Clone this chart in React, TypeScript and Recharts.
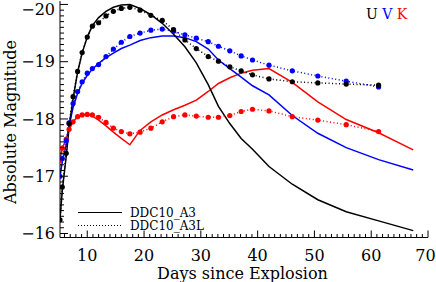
import React from 'react';
import { ComposedChart, Line, XAxis, YAxis, Legend } from 'recharts';

const FONT = '"DejaVu Serif", serif';

// Model DDC10_A3 (solid lines)
const solidDays = [5.2, 5.6, 6.3, 6.8, 7.5, 8.3, 9.1, 10.0, 10.9, 12.0, 13.3, 14.6, 16.0, 17.5, 19.3, 21.2, 23.2, 25.2, 27.2, 29.2, 31.3, 33.1, 35.1, 37.1, 39.1, 42.0, 46.1, 50.6, 55.6, 61.3, 67.4];
const solidU = [-16.24, -16.75, -17.35, -17.85, -18.35, -18.82, -19.15, -19.43, -19.63, -19.77, -19.88, -19.95, -19.99, -20.0, -19.93, -19.82, -19.67, -19.48, -19.26, -18.98, -18.6, -18.22, -17.92, -17.66, -17.47, -17.17, -16.86, -16.59, -16.38, -16.22, -16.05];
const solidV = [-17.0, -17.25, -17.55, -17.88, -18.2, -18.45, -18.62, -18.76, -18.87, -18.97, -19.07, -19.15, -19.23, -19.29, -19.37, -19.42, -19.45, -19.45, -19.42, -19.35, -19.22, -19.03, -18.88, -18.73, -18.58, -18.42, -18.06, -17.75, -17.5, -17.29, -17.11];
const solidK = [-17.28, -17.49, -17.65, -17.82, -17.95, -18.04, -18.07, -18.08, -18.05, -17.98, -17.88, -17.77, -17.66, -17.55, -17.8, -17.95, -18.07, -18.16, -18.24, -18.33, -18.48, -18.62, -18.72, -18.8, -18.85, -18.88, -18.64, -18.3, -17.99, -17.76, -17.46];

// Model DDC10_A3L (dotted lines with dots)
const dottedDays = [5.2, 5.6, 6.3, 6.8, 7.5, 8.3, 9.1, 10.0, 10.9, 12.0, 13.3, 14.6, 16.0, 17.5, 19.3, 21.2, 23.2, 25.2, 27.2, 29.2, 31.3, 33.1, 35.1, 37.1, 39.1, 42.0, 46.1, 50.6, 55.6, 61.3];
const dottedU = [-16.24, -16.81, -17.4, -17.92, -18.39, -18.83, -19.16, -19.43, -19.62, -19.68, -19.8, -19.88, -19.93, -19.95, -19.9, -19.81, -19.72, -19.56, -19.38, -19.23, -19.09, -19.01, -18.91, -18.84, -18.77, -18.7, -18.65, -18.63, -18.61, -18.59];
const dottedV = [-17.0, -17.31, -17.62, -17.93, -18.27, -18.48, -18.65, -18.8, -18.88, -18.95, -19.09, -19.22, -19.34, -19.44, -19.5, -19.55, -19.57, -19.53, -19.47, -19.41, -19.35, -19.27, -19.19, -19.1, -19.03, -18.94, -18.84, -18.75, -18.66, -18.56];
const dottedK = [-17.28, -17.49, -17.65, -17.82, -17.95, -18.04, -18.07, -18.08, -18.07, -18.03, -17.94, -17.84, -17.78, -17.74, -17.77, -17.84, -17.95, -18.04, -18.07, -18.05, -18.03, -18.03, -18.06, -18.13, -18.17, -18.14, -18.04, -17.98, -17.9, -17.78];

const xMajorTicks = [10, 20, 30, 40, 50, 60, 70];
const yMajorTicks = [-20, -19, -18, -17, -16];
const xDomain: [number, number] = [5.2, 70];
const yDomain: [number, number] = [-20.06, -15.93];

const xAllTicks: number[] = [];
for (let d = 6; d <= 70; d++) xAllTicks.push(d);
const yAllTicks: number[] = [];
for (let i = 0; i <= 40; i++) yAllTicks.push(Math.round((-20 + i * 0.1) * 10) / 10);

const toSeries = (days: number[], mags: number[]) => days.map((day, i) => ({ day, mag: mags[i] }));

const fmt = (v: number) => (v < 0 ? '\u2212' + Math.abs(v) : String(v));

const BottomTick = (props: any) => {
  const { x, y, payload } = props;
  const v = payload.value;
  const major = xMajorTicks.includes(v);
  const last = v === xMajorTicks[xMajorTicks.length - 1];
  return (
    <g>
      <line x1={x} y1={y} x2={x} y2={y - (major ? 7 : 3.5)} stroke="#000" strokeWidth={1} />
      {major && (
        <text x={last ? x - 2.5 : x} y={y + 23} textAnchor="middle" fontFamily={FONT} fontSize={16} fill="#000">
          {v}
        </text>
      )}
    </g>
  );
};

const TopTick = (props: any) => {
  const { x, y, payload } = props;
  const major = xMajorTicks.includes(payload.value);
  return <line x1={x} y1={y} x2={x} y2={y + (major ? 7 : 3.5)} stroke="#000" strokeWidth={1} />;
};

const isYMajor = (v: number) => yMajorTicks.some((m) => Math.abs(m - v) < 1e-6);

const LeftTick = (props: any) => {
  const { x, y, payload } = props;
  const v = payload.value;
  const major = isYMajor(v);
  const top = Math.abs(v - yMajorTicks[0]) < 1e-6;
  return (
    <g>
      <line x1={x} y1={y} x2={x + (major ? 8 : 4)} y2={y} stroke="#000" strokeWidth={1} />
      {major && (
        <text x={x - 5} y={y + (top ? 10.6 : 5.8)} textAnchor="end" fontFamily={FONT} fontSize={16} fill="#000">
          {fmt(Math.round(v))}
        </text>
      )}
    </g>
  );
};

const RightTick = (props: any) => {
  const { x, y, payload } = props;
  const major = isYMajor(payload.value);
  return <line x1={x} y1={y} x2={x - (major ? 8 : 4)} y2={y} stroke="#000" strokeWidth={1} />;
};

const XTitle = (props: any) => {
  const vb = props.viewBox || { x: 60, y: 237.5, width: 368, height: 44.5 };
  return (
    <text x={vb.x + vb.width / 2 - 1.5} y={vb.y + 41.5} textAnchor="middle" fontFamily={FONT} fontSize={16} fill="#000">
      Days since Explosion
    </text>
  );
};

const YTitle = () => {
  const cx = 10;
  const cy = 122;
  return (
    <text
      x={cx}
      y={cy}
      transform={`rotate(-90, ${cx}, ${cy})`}
      textAnchor="middle"
      dominantBaseline="central"
      fontFamily={FONT}
      fontSize={16}
      fill="#000"
    >
      Absolute Magnitude
    </text>
  );
};

const renderLegend = () => (
  <svg width={436} height={282} style={{ position: 'absolute', left: 0, top: 0 }}>
    <line x1={78} y1={212.5} x2={122} y2={212.5} stroke="#000" strokeWidth={1.2} />
    <text x={130} y={217} fontFamily={FONT} fontSize={12} fill="#000">
      DDC10_A3
    </text>
    <line x1={78} y1={225.5} x2={122} y2={225.5} stroke="#000" strokeWidth={1.2} strokeDasharray="1 2" />
    <text x={130} y={230} fontFamily={FONT} fontSize={12} fill="#000">
      DDC10_A3L
    </text>
    <text x={366} y={19} fontFamily={FONT} fontSize={14}>
      <tspan fill="#000">U</tspan>
      <tspan fill="#0000ff"> V</tspan>
      <tspan fill="#ff0000"> K</tspan>
    </text>
  </svg>
);

const series = [
  { key: 'sK', data: toSeries(solidDays, solidK), color: '#ff0000', dotted: false },
  { key: 'sV', data: toSeries(solidDays, solidV), color: '#0000ff', dotted: false },
  { key: 'sU', data: toSeries(solidDays, solidU), color: '#000000', dotted: false },
  { key: 'dK', data: toSeries(dottedDays, dottedK), color: '#ff0000', dotted: true },
  { key: 'dV', data: toSeries(dottedDays, dottedV), color: '#0000ff', dotted: true },
  { key: 'dU', data: toSeries(dottedDays, dottedU), color: '#000000', dotted: true },
];

export default function App() {
  return (
    <div style={{ position: 'absolute', left: 0, top: 0, width: 436, height: 282, background: '#fff' }}>
      <ComposedChart width={436} height={282} margin={{ top: 1, right: 8, bottom: 0, left: 0 }}>
        <XAxis
          xAxisId={0}
          type="number"
          dataKey="day"
          domain={xDomain}
          allowDataOverflow
          ticks={xAllTicks}
          interval={0}
          tickSize={0}
          tickMargin={0}
          tickLine={false}
          tick={<BottomTick />}
          height={44.5}
          axisLine={{ stroke: '#000', strokeWidth: 1 }}
          label={<XTitle />}
        />
        <XAxis
          xAxisId="top"
          orientation="top"
          type="number"
          dataKey="day"
          domain={xDomain}
          allowDataOverflow
          ticks={xAllTicks}
          interval={0}
          tickSize={0}
          tickMargin={0}
          tickLine={false}
          tick={<TopTick />}
          height={0}
          axisLine={{ stroke: '#000', strokeWidth: 1 }}
        />
        <YAxis
          yAxisId={0}
          type="number"
          domain={yDomain}
          reversed
          allowDataOverflow
          ticks={yAllTicks}
          interval={0}
          tickSize={0}
          tickMargin={0}
          tickLine={false}
          tick={<LeftTick />}
          width={60}
          axisLine={{ stroke: '#000', strokeWidth: 1 }}
          label={<YTitle />}
        />
        <YAxis
          yAxisId="right"
          orientation="right"
          type="number"
          domain={yDomain}
          reversed
          allowDataOverflow
          ticks={yAllTicks}
          interval={0}
          tickSize={0}
          tickMargin={0}
          tickLine={false}
          tick={<RightTick />}
          width={0}
          axisLine={{ stroke: '#000', strokeWidth: 1 }}
        />
        {series.map((s) => (
          <Line
            key={s.key}
            data={s.data}
            dataKey="mag"
            xAxisId={0}
            yAxisId={0}
            type="linear"
            stroke={s.color}
            strokeWidth={1.5}
            strokeDasharray={s.dotted ? '1 2.5' : undefined}
            dot={s.dotted ? { r: 2.6, fill: s.color, stroke: s.color, strokeWidth: 0 } : false}
            activeDot={false}
            isAnimationActive={false}
          />
        ))}
        <Legend
          content={renderLegend}
          layout="horizontal"
          verticalAlign="middle"
          align="center"
          wrapperStyle={{ position: 'absolute', left: 0, top: 0, width: 436, height: 282, pointerEvents: 'none' }}
        />
      </ComposedChart>
    </div>
  );
}
